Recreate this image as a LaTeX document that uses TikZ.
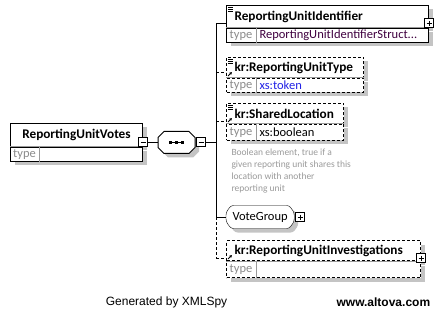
\documentclass[tikz,border=0pt]{standalone}
\usepackage{fontspec}
\setmainfont{Carlito}
\newfontfamily\footfont{Liberation Sans}
\usetikzlibrary{positioning, shadows, arrows.meta, backgrounds}
\definecolor{shade}{HTML}{C4C4C4}
\definecolor{typegray}{HTML}{8C8C8C}
\definecolor{divgray}{HTML}{9A9A9A}
\definecolor{doctext}{HTML}{9A9A9A}
\definecolor{xsblue}{HTML}{2222E6}
\definecolor{structink}{HTML}{400040}

\begin{document}
\begin{tikzpicture}[x=1pt, y=-1pt, line width=1pt, font=\fontsize{12.5}{14}\selectfont,
  shadowed/.style={drop shadow={shadow xshift=4pt, shadow yshift=-4pt, fill=shade, opacity=1}},
  elname/.style={draw, fill=white, shadowed, anchor=north west, inner xsep=8pt, inner ysep=0pt,
                 minimum height=22pt, align=left, font=\fontsize{13.25}{15}\selectfont\bfseries},
  eltype/.style={draw, fill=white, shadowed, anchor=north west, inner sep=0pt, minimum height=14pt},
  optional/.style={dash pattern=on 3pt off 2pt},
  typelbl/.style={anchor=west, inner sep=0pt, minimum width=29pt, minimum height=14pt, text=typegray},
  typeval/.style={inner sep=0pt, right=3pt of #1},
  divline/.style={draw=divgray},
  pmbox/.style={draw, fill=white, inner sep=0pt, minimum size=9pt},
  plusbtn/.style={pmbox, path picture={
      \draw ([xshift=2pt]path picture bounding box.west) -- ([xshift=-2pt]path picture bounding box.east);
      \draw ([yshift=-2pt]path picture bounding box.north) -- ([yshift=2pt]path picture bounding box.south);}},
  minusbtn/.style={pmbox, path picture={
      \draw ([xshift=2pt]path picture bounding box.west) -- ([xshift=-2pt]path picture bounding box.east);}},
  % outline with cut corners round a node: node, x cut, y cut
  chamferpath/.style n args={3}{insert path={
      ([xshift=#2]#1.north west) -- ([xshift=-#2]#1.north east) -- ([yshift=-#3]#1.north east)
      -- ([yshift=#3]#1.south east) -- ([xshift=-#2]#1.south east) -- ([xshift=#2]#1.south west)
      -- ([yshift=#3]#1.south west) -- ([yshift=-#3]#1.north west) -- cycle}},
  docicon/.style={line width=0.7pt},
  refarrow/.style={line width=0.8pt, -{Latex[length=2.5pt, width=3pt]}}]

  \useasboundingbox (0,0) rectangle (442,310);

  % root element
  \node[elname, anchor=north west, minimum width=132pt, minimum height=23pt, align=center] (root) at (10,123) {ReportingUnitVotes};
  \node[eltype, minimum width=132pt] (roott) at (root.south west) {};
  \draw[divline] (roott.north west) -- (roott.north east);
  \node[typelbl, minimum width=28pt] (roottl) at (roott.west) {type};
  \draw[divline] (roottl.north east) -- (roottl.south east);
  \node[minusbtn] (rootm) at ([yshift=4.5pt]root.south east) {};

  % sequence compositor
  \node[inner sep=0pt, minimum width=36pt, minimum height=21pt, right=10pt of rootm] (seq) {};
  \path[draw, fill=white, shadowed, chamferpath={seq}{6pt}{6pt}];
  \draw ([xshift=-7pt]seq.center) -- ([xshift=7pt]seq.center);
  \foreach \dx in {-6,0,6}
    \fill ([xshift=\dx pt]seq.center) +(-1.3,-1.3) rectangle +(1.3,1.3);
  \node[minusbtn, right=1pt of seq] (seqm) {};
  \coordinate[right=10pt of seqm] (bus);
  \draw (rootm) -- (seq);
  \draw (seqm) -- (bus);

  % ReportingUnitIdentifier
  \node[elname, text width=186pt] (rui) at (226,5) {ReportingUnitIdentifier};
  \node[eltype, minimum width=202pt] (ruit) at (rui.south west) {};
  \draw[divline] (ruit.north west) -- (ruit.north east);
  \node[typelbl] (ruitl) at (ruit.west) {type};
  \draw[divline] (ruitl.north east) -- (ruitl.south east);
  \node[typeval=ruitl, text=structink] (ruitv) {ReportingUnitIdentifierStruct...};
  \node[plusbtn] (ruip) at ([yshift=4.5pt]rui.south east) {};
  \foreach \d in {2,4,6}
    \draw[docicon] ([shift={(2,\d)}]rui.north west) -- ++(5,0);

  % kr:ReportingUnitType
  \node[elname, optional, minimum height=20pt, text width=121pt] (rut) at (226,57) {kr:ReportingUnitType};
  \node[eltype, optional, minimum width=137pt] (rutt) at (rut.south west) {};
  \draw[divline] (rutt.north west) -- (rutt.north east);
  \node[typelbl] (ruttl) at (rutt.west) {type};
  \draw[divline] (ruttl.north east) -- (ruttl.south east);
  \node[typeval=ruttl, text=xsblue] (ruttv) {xs:token};
  \foreach \d in {2,4,6}
    \draw[docicon] ([shift={(2,\d)}]rut.north west) -- ++(5,0);
  \draw[refarrow] ([shift={(2,-2)}]rut.south west) -- ++(4,-4);

  % kr:SharedLocation
  \node[elname, optional, minimum height=20pt, text width=101pt] (sl) at (226,103) {kr:SharedLocation};
  \node[eltype, optional, minimum width=117pt, minimum height=16pt] (slt) at (sl.south west) {};
  \draw[divline] (slt.north west) -- (slt.north east);
  \node[typelbl, minimum height=16pt] (sltl) at (slt.west) {type};
  \draw[divline] (sltl.north east) -- (sltl.south east);
  \node[typeval=sltl] (sltv) {xs:boolean};
  \foreach \d in {2,4,6}
    \draw[docicon] ([shift={(2,\d)}]sl.north west) -- ++(5,0);
  \draw[refarrow] ([shift={(2,-2)}]sl.south west) -- ++(4,-4);
  \node[below right=7pt and 5pt of slt.south west, anchor=north west, inner sep=0pt, align=left,
        text=doctext, font=\fontsize{9.5}{12}\selectfont] (sldoc)
        {Boolean element, true if a\\given reporting unit shares this\\location with another\\reporting unit};

  % VoteGroup
  \node[inner xsep=6pt, inner ysep=0pt, minimum height=22pt, anchor=west] (vg) at (226,217) {VoteGroup};
  \begin{scope}[on background layer]
    \path[draw, fill=white, shadowed, rounded corners=2.5pt, chamferpath={vg}{5pt}{7pt}];
  \end{scope}
  \node[plusbtn, right=1pt of vg] (vgp) {};

  % kr:ReportingUnitInvestigations
  \node[elname, optional, minimum height=20pt, text width=178pt] (rin) at (226,240) {kr:ReportingUnitInvestigations};
  \node[eltype, optional, minimum width=194pt, minimum height=16pt] (rint) at (rin.south west) {};
  \draw[divline] (rint.north west) -- (rint.north east);
  \node[typelbl, minimum height=16pt] (rintl) at (rint.west) {type};
  \draw[divline] (rintl.north east) -- (rintl.south east);
  \node[plusbtn] (rinp) at ([yshift=3pt]rin.south east) {};
  \draw[refarrow] ([shift={(2,-2)}]rin.south west) -- ++(4,-4);

  % connectors
  \coordinate (rui-in) at ([yshift=4pt]rui.south west);
  \coordinate (rut-in) at ([yshift=5pt]rut.south west);
  \coordinate (sl-in) at ([yshift=2pt]sl.south west);
  \coordinate (rin-in) at ([yshift=3pt]rin.south west);
  \draw (bus |- rui-in) -- (bus |- vg.west);
  \draw[optional] (bus |- vg.west) -- (bus |- rin-in);
  \draw (bus |- rui-in) -- (rui-in);
  \draw[optional] (bus |- rut-in) -- (rut-in);
  \draw[optional] (bus |- sl-in) -- (sl-in);
  \draw (bus |- vg.west) -- (vg.west);
  \draw[optional] (bus |- rin-in) -- (rin-in);

  \node[font=\footfont\fontsize{12}{14}\selectfont, anchor=west] (gen) at (102,302) {Generated by XMLSpy};
  \node[font=\footfont\fontsize{12}{14}\selectfont\bfseries, anchor=east] (url) at (434,302) {www.altova.com};
\end{tikzpicture}
\end{document}
